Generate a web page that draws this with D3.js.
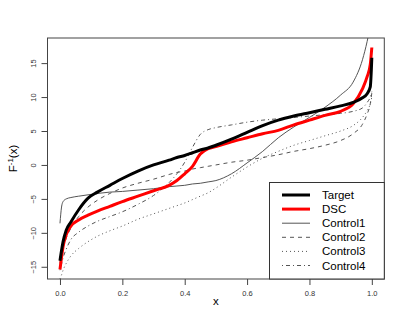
<!DOCTYPE html>
<html>
<head>
<meta charset="utf-8">
<script src="https://cdn.jsdelivr.net/npm/d3@7"></script>
<style>
  body { margin: 0; background: #fff; }
  svg { display: block; font-family: "Liberation Sans", Arial, Helvetica, sans-serif; }
</style>
</head>
<body>
<script>
let width = 409;
let height = 327;

// plot region (R style box)
let box = {left: 47.5, right: 384.3, top: 38, bottom: 279};

// probability grid shared by all quantile curves
let probs = [0, 0.005, 0.01, 0.02, 0.035, 0.06, 0.09, 0.12, 0.16, 0.2, 0.25, 0.3, 0.35, 0.375,
  0.4, 0.425, 0.45, 0.475, 0.5, 0.55, 0.6, 0.65, 0.7, 0.75, 0.8, 0.85, 0.9, 0.94, 0.97, 0.985, 0.995, 1];

let target = [-14.1, -12.6, -11.3, -9.6, -8.4, -6.6, -4.9, -4.0, -3.0, -2.0, -0.9, 0.0, 0.7, 1.1,
  1.4, 1.8, 2.2, 2.5, 2.9, 3.8, 4.8, 5.8, 6.6, 7.2, 7.7, 8.2, 8.7, 9.2, 9.9, 10.5, 11.5, 15.8];

let dsc = [-15.4, -13.6, -12.0, -10.3, -9.0, -8.1, -7.4, -6.8, -6.1, -5.4, -4.6, -3.8, -3.0, -2.3,
  -1.3, -0.2, 1.6, 2.4, 2.7, 3.4, 4.0, 4.6, 5.1, 5.9, 6.6, 7.3, 7.9, 9.0, 11.2, 13.0, 14.8, 17.3];

let control1 = [-8.6, -6.2, -5.4, -5.0, -4.8, -4.6, -4.4, -4.2, -4.0, -3.9, -3.7, -3.5, -3.2, -3.1,
  -3.0, -2.8, -2.7, -2.5, -2.3, -1.3, 0.3, 2.0, 4.0, 5.6, 7.0, 8.5, 10.3, 12.2, 15.5, 18.2, 20.5, 22];

let control2 = [-14.5, -13.2, -12.2, -10.8, -9.3, -7.6, -6.2, -5.2, -4.2, -3.4, -2.7, -2.1, -1.4, -1.1,
  -0.9, -0.6, -0.4, -0.2, 0.0, 0.4, 0.7, 1.1, 1.5, 2.0, 2.4, 2.9, 3.6, 4.6, 6.0, 7.5, 9.0, 10.6];

let control3 = [-16.8, -16.2, -15.5, -14.5, -13.4, -12.3, -11.3, -10.5, -9.7, -9.0, -8.0, -7.2, -6.4, -6.0,
  -5.6, -5.1, -4.6, -4.1, -3.4, -1.8, -0.3, 1.0, 2.0, 2.9, 3.6, 4.3, 5.0, 5.8, 7.0, 8.0, 9.0, 10.0];

let control4 = [-15.5, -14.6, -13.7, -12.4, -11.0, -9.9, -9.0, -8.3, -7.6, -6.9, -5.8, -4.5, -2.6, -1.3,
  0.4, 2.6, 4.5, 5.2, 5.5, 5.9, 6.3, 6.6, 6.8, 7.0, 7.2, 7.4, 7.6, 7.9, 8.4, 9.2, 10.0, 10.8];

let seriesNames = ['Target', 'DSC', 'Control1', 'Control2', 'Control3', 'Control4'];
let seriesValues = [target, dsc, control1, control2, control3, control4];
let seriesColors = ['#000', '#ff0000', '#555', '#555', '#555', '#555'];
let seriesWidths = [3, 3, 1, 1, 1, 1];
let seriesDash = [null, null, null, '4,4', '1,3', '1,3,4,3'];

let xTicks = [0, 0.2, 0.4, 0.6, 0.8, 1.0];
let yTicks = [-15, -10, -5, 0, 5, 10, 15];

let x = d3.scaleLinear().domain([-0.04, 1.04]).range([box.left, box.right]);
let y = d3.scaleLinear().domain([-16.8, 18.7]).range([box.bottom, box.top]);

let svg = d3.select('body')
    .append('svg')
    .attr('width', width)
    .attr('height', height);

svg.append('defs').append('clipPath')
    .attr('id', 'plotclip')
  .append('rect')
    .attr('x', box.left)
    .attr('y', box.top)
    .attr('width', box.right - box.left)
    .attr('height', box.bottom - box.top);

let line = d3.line()
    .x((d) => x(d[0]))
    .y((d) => y(d[1]))
    .curve(d3.curveMonotoneX);

let lines = svg.append('g').attr('clip-path', 'url(#plotclip)');

// draw thin controls first, then DSC and Target on top
[2, 3, 4, 5, 1, 0].forEach(i => {
  lines.append('path')
      .datum(probs.map((p, j) => [p, seriesValues[i][j]]))
      .attr('d', line)
      .attr('fill', 'none')
      .attr('stroke', seriesColors[i])
      .attr('stroke-width', seriesWidths[i])
      .attr('stroke-dasharray', seriesDash[i])
      .attr('stroke-linejoin', 'round');
});

// box
svg.append('rect')
    .attr('x', box.left)
    .attr('y', box.top)
    .attr('width', box.right - box.left)
    .attr('height', box.bottom - box.top)
    .attr('fill', 'none')
    .attr('stroke', '#444')
    .attr('stroke-width', 1);

// axes
let xAxis = svg.append('g')
    .attr('transform', `translate(0,${box.bottom})`)
    .call(d3.axisBottom(x).tickValues(xTicks).tickFormat(d3.format('.1f')).tickSize(6).tickSizeOuter(0));
xAxis.select('.domain').remove();
xAxis.selectAll('line').attr('stroke', '#444');
xAxis.selectAll('text')
    .attr('y', 11.5)
    .attr('fill', '#333')
    .style('font-size', '7.5px')
    .style('font-family', '"Liberation Sans", Arial, sans-serif');

let yAxis = svg.append('g')
    .attr('transform', `translate(${box.left},0)`)
    .call(d3.axisLeft(y).tickValues(yTicks).tickSize(6).tickSizeOuter(0));
yAxis.select('.domain').remove();
yAxis.selectAll('line').attr('stroke', '#444');
yAxis.selectAll('text')
    .attr('transform', 'rotate(-90)')
    .attr('x', 0)
    .attr('y', -12)
    .attr('dy', 0)
    .attr('fill', '#333')
    .style('text-anchor', 'middle')
    .style('font-size', '7.5px')
    .style('font-family', '"Liberation Sans", Arial, sans-serif');

// axis titles
svg.append('text')
    .attr('x', (box.left + box.right) / 2)
    .attr('y', 305)
    .attr('text-anchor', 'middle')
    .style('font-size', '11.5px')
    .text('x');

let ylab = svg.append('text')
    .attr('transform', `translate(17,${(box.top + box.bottom) / 2}) rotate(-90)`)
    .attr('text-anchor', 'middle')
    .style('font-size', '11.5px');
ylab.append('tspan').text('F');
ylab.append('tspan').attr('dy', -4).style('font-size', '8px').text('-1');
ylab.append('tspan').attr('dy', 4).text('(x)');

// legend
let legend = svg.append('g');
legend.append('rect')
    .attr('x', 269.5)
    .attr('y', 182.5)
    .attr('width', box.right - 269.5)
    .attr('height', box.bottom - 182.5)
    .attr('fill', '#fff')
    .attr('stroke', '#333')
    .attr('stroke-width', 1);

seriesNames.forEach((name, i) => {
  let ly = 195 + i * 14.1;
  legend.append('line')
      .attr('x1', 282)
      .attr('x2', 310)
      .attr('y1', ly)
      .attr('y2', ly)
      .attr('stroke', seriesColors[i])
      .attr('stroke-width', seriesWidths[i])
      .attr('stroke-dasharray', seriesDash[i]);
  legend.append('text')
      .attr('x', 322)
      .attr('y', ly)
      .attr('dy', '0.35em')
      .style('font-size', '11.5px')
      .text(name);
});
</script>
</body>
</html>
